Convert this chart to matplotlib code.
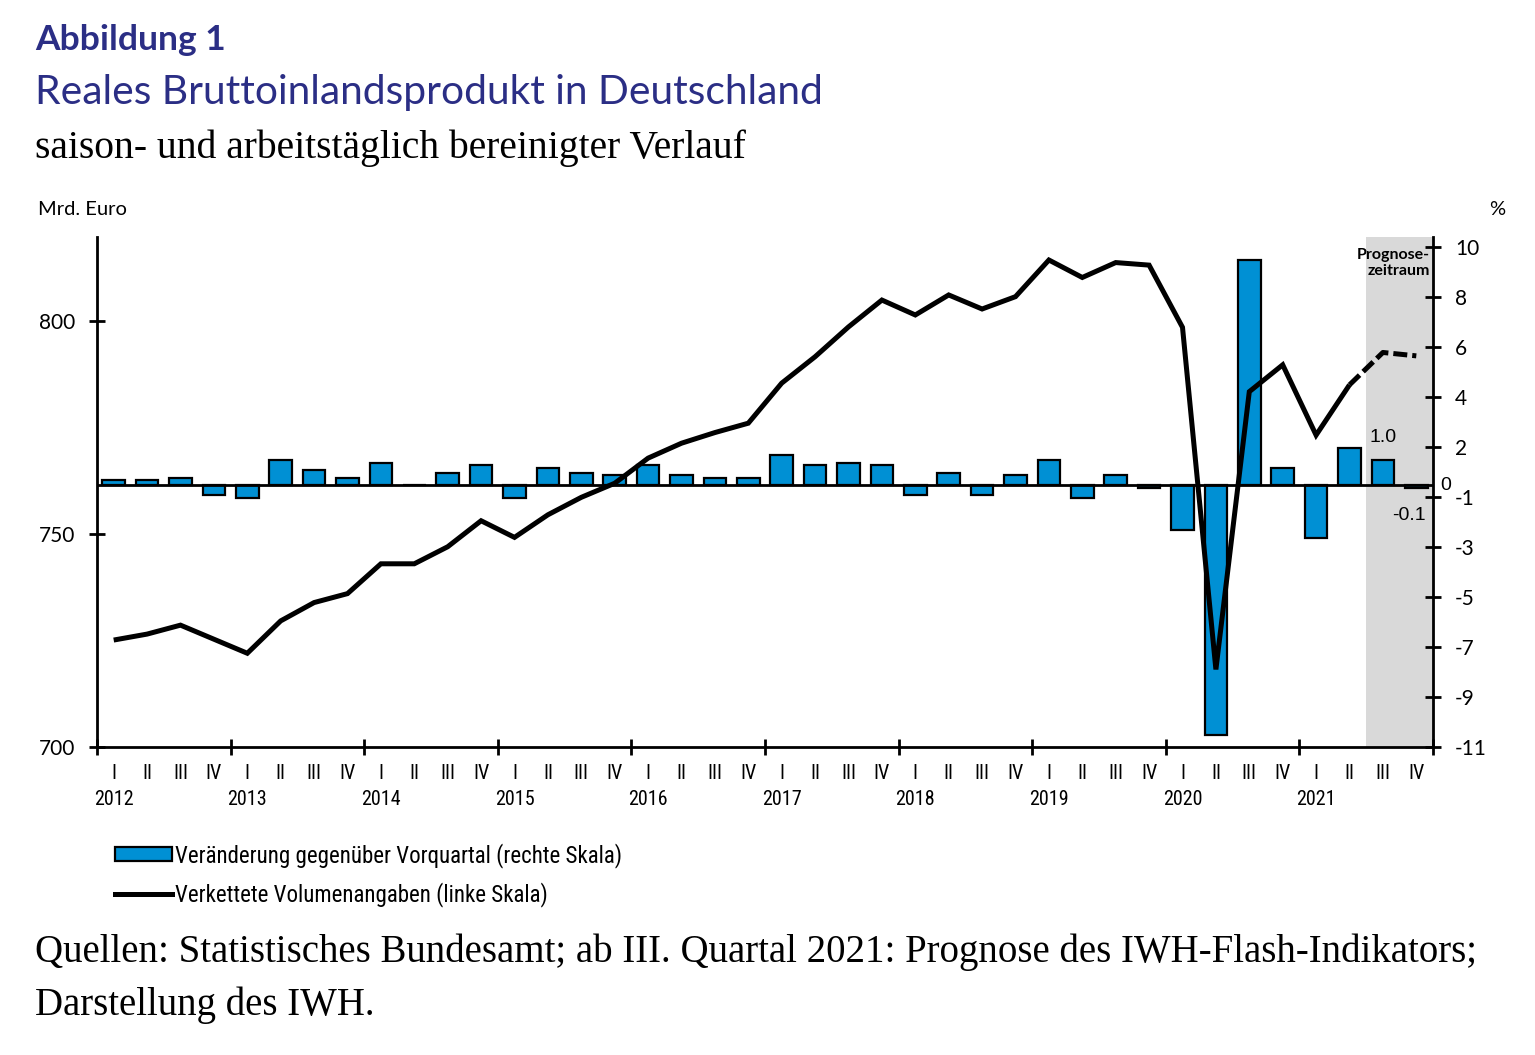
import matplotlib
matplotlib.use('Agg')
import matplotlib.pyplot as plt
import numpy as np
from matplotlib.lines import Line2D
from matplotlib.patches import Patch
from matplotlib import font_manager as fm
import matplotlib.transforms as mtransforms

# ---------------- data ----------------
years = [str(y) for y in range(2012, 2022)]
quarter_names = ['I', 'II', 'III', 'IV']
# chained volume, bn EUR (left scale)
volume = [725.1, 726.5, 728.6, 725.3, 722.0, 729.6, 733.9, 736.0, 743.0, 743.0,
          747.0, 753.1, 749.2, 754.5, 758.6, 761.9, 767.8, 771.3, 773.8, 776.0,
          785.4, 791.6, 798.6, 804.9, 801.4, 806.1, 802.8, 805.7, 814.3, 810.2,
          813.7, 813.1, 798.5, 718.2, 783.4, 789.7, 773.2, 785.0, 792.6, 791.8]
# change vs previous quarter, % (right scale)
change = [0.2, 0.2, 0.3, -0.4, -0.5, 1.0, 0.6, 0.3, 0.9, 0.0,
          0.5, 0.8, -0.5, 0.7, 0.5, 0.4, 0.8, 0.4, 0.3, 0.3,
          1.2, 0.8, 0.9, 0.8, -0.4, 0.5, -0.4, 0.4, 1.0, -0.5,
          0.4, -0.1, -1.8, -10.0, 9.0, 0.7, -2.1, 1.5, 1.0, -0.1]
forecast_start = 38          # index of 2021 Q III
left_ticks = [700, 750, 800]
right_tick_labels = ['-11', '-9', '-7', '-5', '-3', '-1', '2', '4', '6', '8', '10']

# ---------------- fonts ----------------
avail = {f.name for f in fm.fontManager.ttflist}
def pick(*names):
    for n in names:
        if n in avail:
            return n
    return 'DejaVu Sans'
SANS = pick('Lato', 'Open Sans', 'Noto Sans', 'DejaVu Sans')
NARROW = pick('Liberation Sans Narrow', 'Roboto Condensed', 'Roboto', 'DejaVu Sans')
SERIF = pick('Liberation Serif', 'DejaVu Serif')
ARIAL = pick('Liberation Sans', 'DejaVu Sans')

NAVY = '#2b2e85'
BLUE = '#0090d4'
W, H = 1535, 1055

fig = plt.figure(figsize=(W / 100, H / 100), dpi=100)
def fx(x): return x / W
def fy(y): return 1 - y / H

# ---------------- axes ----------------
axL = fig.add_axes([fx(97), fy(747), fx(1433) - fx(97), fy(237) - fy(747)])
axR = axL.twinx()
axL.set_zorder(axR.get_zorder() + 1)
axL.patch.set_visible(False)

n = len(volume)
x = np.arange(n)

# forecast shading
axR.axvspan(forecast_start - 0.5, n - 0.5, color='#d9d9d9', zorder=0, lw=0)

# bars
axR.bar(x, change, width=0.68, color=BLUE, edgecolor='black', linewidth=1.6, zorder=2)
axR.axhline(0, color='black', lw=2.0, zorder=3)
axR.set_ylim(-10.48, 9.92)
axR.set_yticks(np.arange(-10.48, 9.6, 2))
axR.set_yticklabels(right_tick_labels)

# line
axL.plot(x[:forecast_start], volume[:forecast_start], color='black', lw=3.6,
         solid_joinstyle='miter', solid_capstyle='butt', zorder=5)
axL.plot(x[forecast_start - 1:], volume[forecast_start - 1:], color='black', lw=3.6,
         dashes=(2.8, 1.0), zorder=5)
axL.set_ylim(700, 819.7)
axL.set_yticks(left_ticks)
axL.set_xlim(-0.5, n - 0.5)

# x ticks: year boundaries (major), quarter labels (minor)
for a in (axL, axR):
    a.set_xticks(np.arange(-0.5, n, 4))
    a.set_xticklabels([])
axL.set_xticks(x, minor=True)
qlabels = []
for i in range(n):
    q = quarter_names[i % 4]
    qlabels.append(q + '\n' + years[i // 4] if i % 4 == 0 else q + '\n')
axL.set_xticklabels(qlabels, minor=True, fontfamily=NARROW, fontsize=14.5,
                    linespacing=1.5)
axL.tick_params(axis='x', which='minor', length=0, pad=12)
axL.tick_params(axis='x', which='major', direction='inout', length=11, width=2)
axR.tick_params(axis='x', which='both', length=0)

axL.tick_params(axis='y', direction='inout', length=12, width=2, pad=10,
                labelsize=15)
axR.tick_params(axis='y', direction='inout', length=12, width=2, pad=10,
                labelsize=15)
for lab in axL.get_yticklabels() + axR.get_yticklabels():
    lab.set_fontfamily(SANS)

for a in (axL, axR):
    for s in a.spines.values():
        s.set_linewidth(2)
    a.spines['top'].set_visible(False)
axL.spines['right'].set_visible(False)
axR.spines['left'].set_visible(False)
axR.spines['bottom'].set_visible(False)

# annotations
blend = mtransforms.blended_transform_factory(axR.transData, axR.transAxes)
axR.text(n - 0.6, 0.978, 'Prognose-\nzeitraum', transform=blend, ha='right', va='top',
         fontfamily=SANS, fontweight='bold', fontsize=11.5, linespacing=1.2, zorder=6)
axR.annotate('1.0', (forecast_start, change[forecast_start]), xytext=(0, 10),
             textcoords='offset points', ha='center', va='bottom',
             fontfamily=ARIAL, fontsize=14, zorder=6)
axR.annotate('-0.1', (n - 1, change[n - 1]), xytext=(-5, -14),
             textcoords='offset points', ha='center', va='top',
             fontfamily=ARIAL, fontsize=14, zorder=6)
axR.annotate('0', (n - 0.5, 0), xytext=(5, 0), textcoords='offset points',
             ha='left', va='center', fontfamily=ARIAL, fontsize=14,
             annotation_clip=False, zorder=6)

# axis unit labels
fig.text(fx(38), fy(215), 'Mrd. Euro', fontfamily=SANS, fontsize=14.5, va='baseline')
fig.text(fx(1497), fy(215), '%', fontfamily=SANS, fontsize=14.5, va='baseline', ha='center')

# titles
fig.text(fx(35), fy(50), 'Abbildung 1', color=NAVY, fontfamily=SANS, fontweight='bold',
         fontsize=25.5, va='baseline')
fig.text(fx(35), fy(104), 'Reales Bruttoinlandsprodukt in Deutschland', color=NAVY,
         fontfamily=SANS, fontsize=29.3, va='baseline')
fig.text(fx(35), fy(158), 'saison- und arbeitstäglich bereinigter Verlauf', color='black',
         fontfamily=SERIF, fontsize=28.5, va='baseline')

# footer
fig.text(fx(35), fy(962), 'Quellen: Statistisches Bundesamt; ab III. Quartal 2021: '
         'Prognose des IWH-Flash-Indikators;', fontfamily=SERIF, fontsize=28, va='baseline')
fig.text(fx(35), fy(1015), 'Darstellung des IWH.', fontfamily=SERIF, fontsize=28,
         va='baseline')

# legend
handles = [Patch(facecolor=BLUE, edgecolor='black', linewidth=1.6),
           Line2D([0], [0], color='black', lw=3.6)]
labels = ['Veränderung gegenüber Vorquartal (rechte Skala)',
          'Verkettete Volumenangaben (linke Skala)']
fig.legend(handles, labels, loc='upper left', bbox_to_anchor=(fx(94), fy(822)),
           frameon=False, prop={'family': NARROW, 'size': 16.5}, handlelength=2.5,
           handleheight=0.55, handletextpad=0.15, labelspacing=0.62)

fig.savefig('out.png', dpi=100)
